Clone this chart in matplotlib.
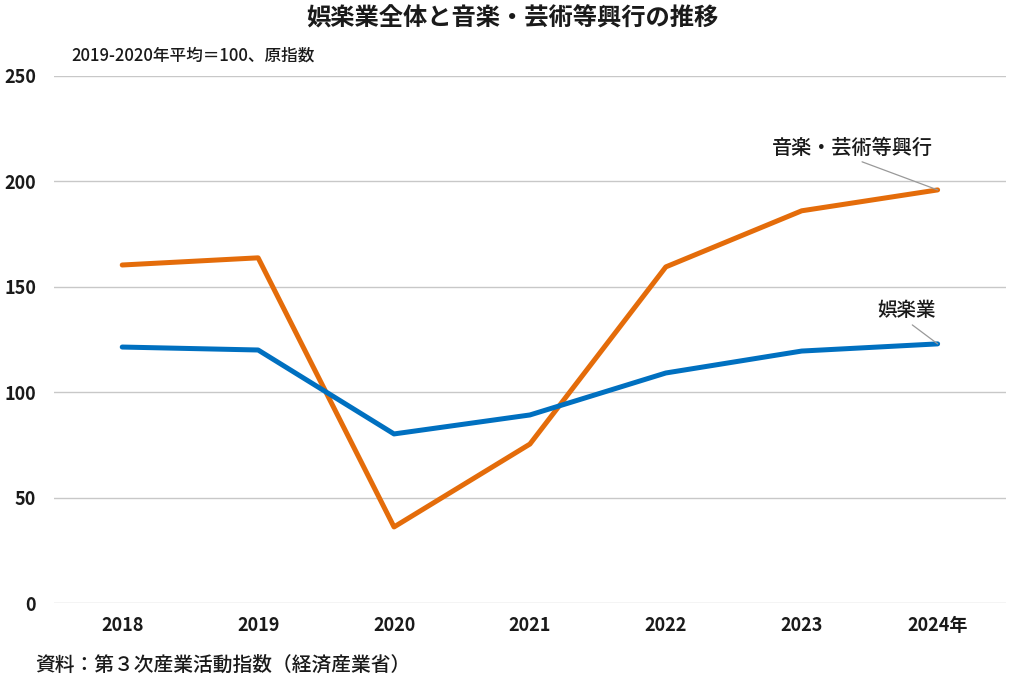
import matplotlib
matplotlib.use("Agg")
import matplotlib.pyplot as plt

plt.rcParams['font.family'] = ['Noto Sans CJK JP', 'DejaVu Sans']

years = ["2018", "2019", "2020", "2021", "2022", "2023", "2024年"]
goraku = [121.4, 120.0, 80.2, 89.2, 109.1, 119.5, 122.9]
ongaku = [160.3, 163.7, 36.1, 75.4, 159.4, 186.0, 195.9]

x = list(range(len(years)))

fig = plt.figure(figsize=(10.24, 6.83), dpi=100)
ax = fig.add_axes([0.053, 0.117, 0.929, 0.772])

ax.plot(x, ongaku, color="#E46C0A", lw=3.6, solid_capstyle="round", zorder=3)
ax.plot(x, goraku, color="#0070C0", lw=3.6, solid_capstyle="round", zorder=3)

ax.set_xlim(-0.5, 6.5)
ax.set_ylim(0, 250)
ax.set_yticks([0, 50, 100, 150, 200, 250])
ax.set_xticks(x)
ax.set_xticklabels(years)
ax.grid(axis="y", color="#c8c8c8", lw=1)
ax.set_axisbelow(True)
for s in ax.spines.values():
    s.set_visible(False)
ax.tick_params(length=0, labelsize=13, colors="#1a1a1a")
ax.tick_params(axis="y", pad=13)
ax.tick_params(axis="x", pad=9)
for lab in ax.get_xticklabels() + ax.get_yticklabels():
    lab.set_fontweight("bold")

# ラベルと引き出し線
ax.annotate("音楽・芸術等興行", xy=(6, ongaku[-1]), xytext=(5.37, 211),
            ha="center", va="bottom", fontsize=14.5, fontweight="medium", color="#1a1a1a",
            arrowprops=dict(arrowstyle="-", color="#999999", lw=0.9,
                            shrinkA=2, shrinkB=0, relpos=(0.5, 0)))
ax.annotate("娯楽業", xy=(6, goraku[-1]), xytext=(5.77, 134),
            ha="center", va="bottom", fontsize=14, fontweight="medium", color="#1a1a1a",
            arrowprops=dict(arrowstyle="-", color="#999999", lw=0.9,
                            shrinkA=2, shrinkB=0, relpos=(0.5, 0)))

fig.text(0.5, 0.973, "娯楽業全体と音楽・芸術等興行の推移", ha="center", va="center",
         fontsize=17.5, fontweight="bold", color="#1a1a1a")
fig.text(0.07, 0.918, "2019-2020年平均＝100、原指数", ha="left", va="center",
         fontsize=12, fontweight="medium", color="#1a1a1a")
fig.text(0.034, 0.026, "資料：第３次産業活動指数（経済産業省）", ha="left", va="center",
         fontsize=14.2, fontweight="medium", color="#1a1a1a")

fig.savefig("out.png", dpi=100)
